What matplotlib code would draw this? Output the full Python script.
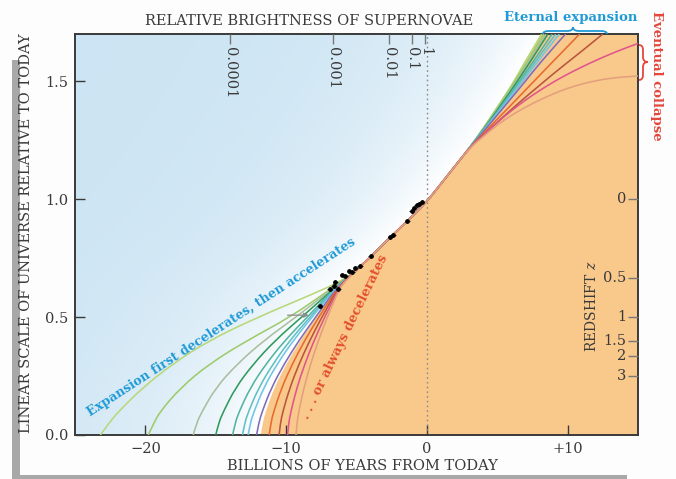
import numpy as np
import matplotlib
matplotlib.use("Agg")
import matplotlib.pyplot as plt
from matplotlib.path import Path
from matplotlib.patches import PathPatch, Rectangle

plt.rcParams["font.family"] = "DejaVu Serif"
plt.rcParams["mathtext.fontset"] = "dejavuserif"

W, H = 676, 479

# ---- data ----------------------------------------------------------------
# past branches: time (Gyr) at which each model reaches these scale factors
A_LEVELS = [0.0, 0.05, 0.1, 0.2, 0.3, 0.4, 0.5, 0.6]
PAST_T = [
    [-23.2, -22.6, -21.9, -20.2, -18.1, -15.5, -12.0, -8.0],    # light green
    [-19.8, -19.4, -18.95, -17.5, -15.5, -12.8, -9.7, -7.3],    # light green 2
    [-16.6, -16.37, -15.97, -15.0, -13.5, -11.6, -9.3, -7.15],  # grey green
    [-15.0, -14.8, -14.45, -13.6, -12.35, -10.8, -8.9, -7.0],   # dark green
    [-13.8, -13.63, -13.33, -12.55, -11.45, -10.1, -8.5, -6.9], # teal
    [-13.1, -12.95, -12.67, -11.95, -10.95, -9.75, -8.3, -6.85],# teal 2
    [-12.7, -12.55, -12.28, -11.6, -10.65, -9.5, -8.15, -6.8],  # sky blue
    [-12.1, -11.95, -11.7, -11.05, -10.15, -9.1, -7.9, -6.7],   # purple
    [-11.2, -11.09, -10.88, -10.32, -9.57, -8.69, -7.68, -6.59],# orange red
    [-10.5, -10.41, -10.23, -9.74, -9.09, -8.33, -7.46, -6.51], # brown red
    [-9.9, -9.82, -9.66, -9.24, -8.68, -8.02, -7.26, -6.44],    # pink
    [-9.3, -9.23, -9.1, -8.74, -8.27, -7.71, -7.07, -6.37],     # faint orange
]
A_AT_MINUS6 = [0.655, 0.652, 0.650, 0.649, 0.648, 0.647, 0.646, 0.645,
               0.644, 0.643, 0.642, 0.641]

# common stretch that all models share around today
TRUNK_T = [-5, -4, -3, -2, -1, 0, 1, 2, 3]
TRUNK_A = [0.70, 0.755, 0.815, 0.872, 0.93, 0.99, 1.065, 1.14, 1.215]

# future branches
FUTURE_T = [
    [4, 5, 6, 7, 8.15],
    [4, 5, 6, 7, 8.3],
    [4, 5, 6, 7, 8.45],
    [4, 5, 6, 7, 8.6],
    [4, 5, 6, 7, 8.9],
    [4, 5, 6, 7, 9.15],
    [4, 5, 6, 7, 9.4],
    [4, 5, 6, 7, 8, 9.85],
    [4, 5, 6, 7, 8, 9, 10, 10.85],
    [4, 5, 6, 7, 8, 9, 10, 11, 12.5],
    [4, 5, 6, 7, 8, 9, 10, 11, 12, 13, 14, 15],
    [4, 5, 6, 7, 8, 9, 10, 11, 12, 13, 14, 15],
]
FUTURE_A = [
    [1.30, 1.39, 1.48, 1.585, 1.70],
    [1.298, 1.385, 1.475, 1.57, 1.70],
    [1.296, 1.38, 1.468, 1.56, 1.70],
    [1.294, 1.376, 1.462, 1.55, 1.70],
    [1.292, 1.37, 1.452, 1.535, 1.70],
    [1.29, 1.366, 1.445, 1.525, 1.70],
    [1.288, 1.362, 1.438, 1.515, 1.70],
    [1.285, 1.356, 1.428, 1.50, 1.575, 1.70],
    [1.277, 1.339, 1.40, 1.462, 1.524, 1.586, 1.647, 1.70],
    [1.272, 1.326, 1.38, 1.432, 1.482, 1.532, 1.58, 1.627, 1.70],
    [1.27, 1.325, 1.375, 1.42, 1.46, 1.497, 1.53, 1.56, 1.588, 1.614, 1.638, 1.66],
    [1.265, 1.315, 1.355, 1.39, 1.42, 1.447, 1.47, 1.488, 1.502, 1.512, 1.518, 1.522],
]
CURVE_COLORS = ["#b9d77a", "#9ecb6c", "#a9bf9f", "#2f9a5c", "#52b4a2", "#5fc0c4",
                "#72c4e6", "#7f6db9", "#e8692f", "#b8553c", "#e0558a", "#e3a07c"]

# left edge of the orange region below today
BOUND_PAST_T = [-11.8, -11.67, -11.45, -10.85, -10.0, -9.0, -7.85, -6.68]
BOUND_A_MINUS6 = 0.6445

# supernova measurements
SN_T = [-0.35, -0.55, -0.7, -0.9, -1.06, -1.4, -2.4, -2.6, -4.0, -4.75, -5.1,
        -5.3, -5.5, -5.8, -6.0, -6.5, -6.3, -6.6, -6.9, -7.6]
SN_A = [0.987, 0.98, 0.974, 0.962, 0.95, 0.906, 0.85, 0.84, 0.757, 0.715, 0.71,
        0.69, 0.694, 0.672, 0.68, 0.647, 0.617, 0.63, 0.62, 0.545]

BRIGHT_T = [-14.0, -6.65, -2.67, -1.08, -0.12]
BRIGHT_LABELS = ["0.0001", "0.001", "0.01", "0.1", "1"]
Z_VALUES = [0, 0.5, 1, 1.5, 2, 3]
Z_LABELS = ["0", "0.5", "1", "1.5", "2", "3"]

X_TICKS = [-20, -10, 0, 10]
X_LABELS = ["\u221220", "\u221210", "0", "+10"]
Y_TICKS = [0.0, 0.5, 1.0, 1.5]

XLIM = (-25, 15)
YLIM = (0, 1.7)

INK = "#3a3a3a"
CYAN = "#1e9ad6"
RED = "#e4473c"
ORANGE = "#f9c98c"


def curve(i):
    t = list(PAST_T[i]) + [-6.0] + TRUNK_T + FUTURE_T[i]
    a = list(A_LEVELS) + [A_AT_MINUS6[i]] + TRUNK_A + FUTURE_A[i]
    return np.array(t), np.array(a)


def smooth_path(t, a, close_right=None):
    # quadratic B-spline through the read points, drawn by matplotlib's Path
    p = np.column_stack([t, a])
    verts, codes = [p[0]], [Path.MOVETO]
    for k in range(1, len(p) - 1):
        verts += [p[k], (p[k] + p[k + 1]) / 2]
        codes += [Path.CURVE3, Path.CURVE3]
    verts.append(p[-1])
    codes.append(Path.LINETO)
    if close_right is not None:
        verts += [(close_right, p[-1][1]), (close_right, p[0][1]), p[0]]
        codes += [Path.LINETO, Path.LINETO, Path.CLOSEPOLY]
    return Path(verts, codes)


def px(x, y):
    return x / W, 1 - y / H


def brace(fig, pts, color):
    verts = [px(*p) for p in pts]
    codes = [Path.MOVETO, Path.CURVE3, Path.CURVE3, Path.LINETO, Path.CURVE3,
             Path.CURVE3, Path.CURVE3, Path.CURVE3, Path.LINETO, Path.CURVE3, Path.CURVE3]
    fig.patches.append(PathPatch(Path(verts, codes), transform=fig.transFigure,
                                 fill=False, edgecolor=color, lw=1.3))


fig = plt.figure(figsize=(W / 100, H / 100), dpi=100)
fig.patch.set_facecolor("#fdfdfd")
ax = fig.add_axes([75 / W, 1 - 435 / H, (638 - 75) / W, (435 - 34) / H])
ax.set_xlim(*XLIM)
ax.set_ylim(*YLIM)

# blue wash that fades to white toward the orange region
bt = np.concatenate([BOUND_PAST_T, [-6.0], TRUNK_T, FUTURE_T[0]])
ba = np.concatenate([A_LEVELS, [BOUND_A_MINUS6], TRUNK_A, FUTURE_A[0]])
gt, ga = np.meshgrid(np.linspace(*XLIM, 400), np.linspace(*YLIM, 300))
d = np.clip(np.interp(ga, ba, bt) - gt, 0, None)
w = np.exp(-d / 7.5)[..., None]
blue = np.array([0.80, 0.895, 0.955])
img = w * np.ones(3) + (1 - w) * blue
ax.imshow(img, extent=[*XLIM, *YLIM], origin="lower", aspect="auto", zorder=0)
ax.add_patch(PathPatch(smooth_path(bt, ba, close_right=XLIM[1]), facecolor=ORANGE,
                       lw=0, zorder=1))

ax.axvline(0, color="#8a8a8a", ls=(0, (1.2, 2.2)), lw=1.0, zorder=2)

for i, c in enumerate(CURVE_COLORS):
    t, a = curve(i)
    ax.add_patch(PathPatch(smooth_path(t, a), fill=False, edgecolor=c, lw=1.15,
                           zorder=3))

ax.errorbar(SN_T, SN_A, xerr=0.18, yerr=0.008, fmt="o", ms=2.4, color="black",
            ecolor="#222222", elinewidth=0.7, capsize=0, zorder=5)
ax.annotate("", xy=(-8.2, 0.508), xytext=(-10.1, 0.508),
            arrowprops=dict(arrowstyle="-|>", color="#8c8c8c", lw=0.9,
                            mutation_scale=7), zorder=4)

# axes styling
for s in ax.spines.values():
    s.set_color(INK)
    s.set_linewidth(1.4)
ax.set_xticks(X_TICKS)
ax.set_xticklabels(X_LABELS)
ax.set_yticks(Y_TICKS)
ax.set_yticklabels([f"{v:.1f}" for v in Y_TICKS])
ax.tick_params(direction="in", length=7, width=1.0, color=INK, labelsize=10.5,
               labelcolor=INK, pad=5)

top = ax.twiny()
top.set_xlim(*XLIM)
top.set_xticks(BRIGHT_T)
top.set_xticklabels([])
top.tick_params(direction="in", length=7, width=1.0, color="#777777")
for t, lbl in zip(BRIGHT_T, BRIGHT_LABELS):
    ax.text(t, 1.7 - 0.057, lbl, rotation=-90, ha="center", va="top",
            fontsize=10.5, color=INK, zorder=6)

right = ax.twinx()
right.set_ylim(*YLIM)
z_pos = [1 / (1 + z) for z in Z_VALUES]
right.set_yticks(z_pos)
right.set_yticklabels([])
right.tick_params(direction="in", length=7, width=1.0, color="#777777")
for p, lbl in zip(z_pos, Z_LABELS):
    ax.text(14.15, p, lbl, ha="right", va="center", fontsize=10.5, color=INK, zorder=6)
for s in list(top.spines.values()) + list(right.spines.values()):
    s.set_visible(False)

ax.text(*px(591, 306), "REDSHIFT $z$", transform=fig.transFigure, rotation=90,
        ha="center", va="center", fontsize=10, color=INK)

# labels and annotations
fig.text(*px(309, 21), "RELATIVE BRIGHTNESS OF SUPERNOVAE", ha="center",
         va="center", fontsize=10.5, color=INK)
fig.text(*px(362, 466), "BILLIONS OF YEARS FROM TODAY", ha="center",
         va="center", fontsize=10.5, color=INK)
fig.text(*px(26, 233), "LINEAR SCALE OF UNIVERSE RELATIVE TO TODAY", rotation=90,
         ha="center", va="center", fontsize=10.5, color=INK)
fig.text(*px(571, 17), "Eternal expansion", ha="center", va="center",
         fontsize=9.5, fontweight="bold", color=CYAN)
fig.text(*px(657, 76), "Eventual collapse", rotation=-90, ha="center",
         va="center", fontsize=9.5, fontweight="bold", color=RED)
ax.text(-14.6, 0.455, "Expansion first decelerates, then accelerates", rotation=33,
        rotation_mode="anchor", ha="center", va="center", fontsize=9.1,
        fontweight="bold", color=CYAN, zorder=6)
ax.text(-5.85, 0.415, ". . . or always decelerates", rotation=64,
        rotation_mode="anchor", ha="center", va="center", fontsize=9.3,
        fontweight="bold", color="#e4502e", zorder=6)

# braces
brace(fig, [(543, 34), (543, 31), (549, 31), (567, 31), (573, 31), (573, 27),
            (573, 31), (579, 31), (601, 31), (607, 31), (607, 34)], CYAN)
brace(fig, [(639, 45), (643, 45), (643, 50), (643, 57), (643, 62), (648, 62),
            (643, 62), (643, 67), (643, 75), (643, 80), (639, 80)], RED)

# grey frame
fig.patches.append(Rectangle(px(12, 479), 8 / W, (479 - 60) / H,
                             transform=fig.transFigure, color="#a8a8a8", lw=0))
fig.patches.append(Rectangle(px(12, 479), (627 - 12) / W, 4 / H,
                             transform=fig.transFigure, color="#a8a8a8", lw=0))

fig.savefig("out.png", dpi=100)
